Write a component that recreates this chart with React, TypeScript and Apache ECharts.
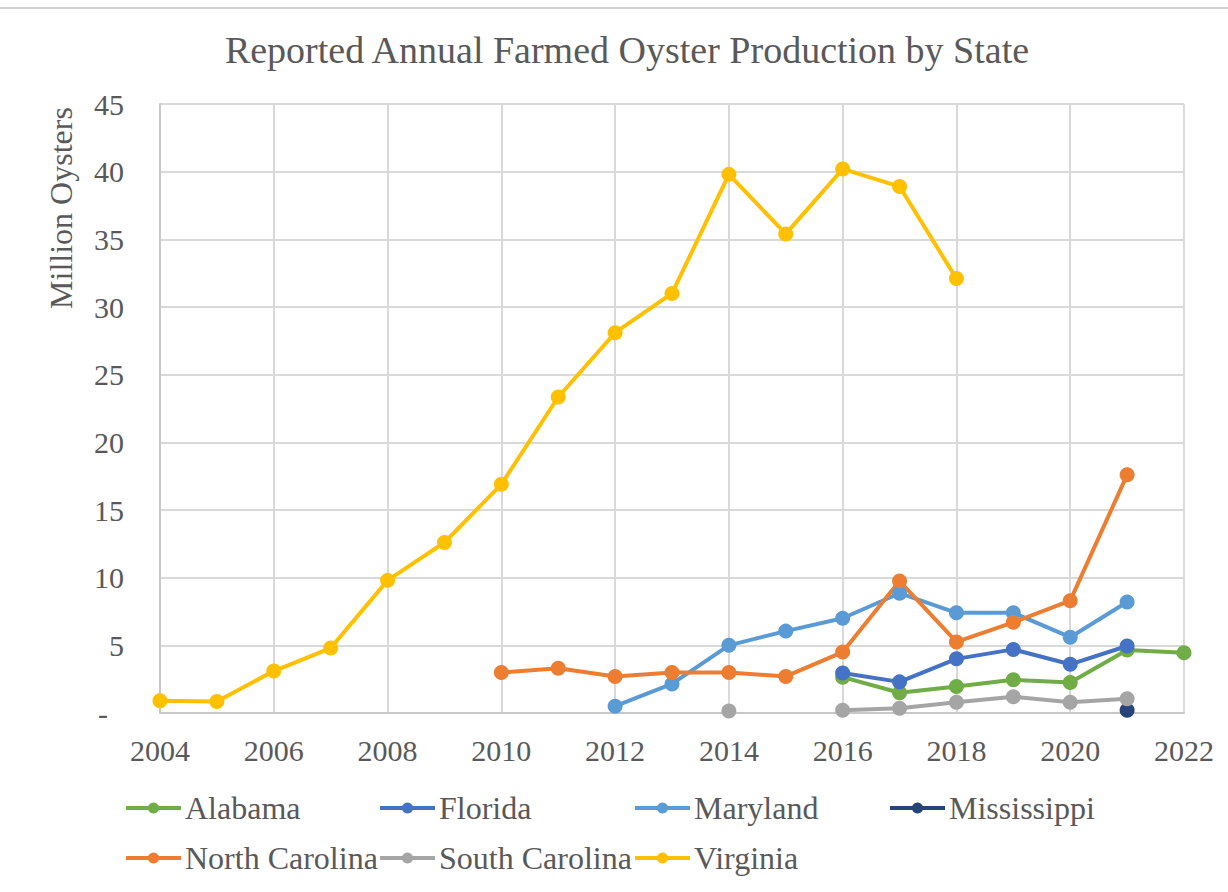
import React, { useEffect, useRef } from "react";
import * as echarts from "echarts";

const years = [2004, 2005, 2006, 2007, 2008, 2009, 2010, 2011, 2012, 2013, 2014, 2015, 2016, 2017, 2018, 2019, 2020, 2021, 2022];
const alabama = [null, null, null, null, null, null, null, null, null, null, null, null, 2.65, 1.5, 1.95, 2.45, 2.25, 4.65, 4.45];
const florida = [null, null, null, null, null, null, null, null, null, null, null, null, 2.95, 2.3, 4.0, 4.7, 3.6, 4.95, null];
const maryland = [null, null, null, null, null, null, null, null, 0.5, 2.15, 5.0, 6.05, 7.0, 8.85, 7.4, 7.4, 5.6, 8.2, null];
const mississippi = [null, null, null, null, null, null, null, null, null, null, null, null, null, null, null, null, null, 0.2, null];
const northCarolina = [null, null, null, null, null, null, 3.0, 3.3, 2.7, 3.0, 3.0, 2.7, 4.5, 9.75, 5.25, 6.7, 8.3, 17.6, null];
const southCarolina = [null, null, null, null, null, null, null, null, null, null, 0.15, null, 0.2, 0.35, 0.8, 1.2, 0.8, 1.05, null];
const virginia = [0.9, 0.85, 3.1, 4.8, 9.8, 12.6, 16.9, 23.35, 28.1, 31.0, 39.8, 35.4, 40.2, 38.9, 32.1, null, null, null, null];

const seriesDefs = [
  { name: "Alabama", values: alabama, color: "#70AD47" },
  { name: "Florida", values: florida, color: "#4472C4" },
  { name: "Maryland", values: maryland, color: "#5B9BD5" },
  { name: "Mississippi", values: mississippi, color: "#264478" },
  { name: "North Carolina", values: northCarolina, color: "#ED7D31" },
  { name: "South Carolina", values: southCarolina, color: "#A5A5A5" },
  { name: "Virginia", values: virginia, color: "#FFC000" },
];

const FONT = "'Liberation Serif', 'Times New Roman', serif";
const TEXT = "#595959";

export default function App() {
  const ref = useRef<HTMLDivElement>(null);
  useEffect(() => {
    document.body.style.margin = "0";
    const chart = echarts.init(ref.current!, null, { renderer: "svg" });
    const legendPos = [
      [124, 792], [378, 792], [633, 792], [888, 792],
      [124, 842], [378, 842], [633, 842],
    ];
    chart.setOption({
      animation: false,
      backgroundColor: "#ffffff",
      textStyle: { fontFamily: FONT },
      grid: { left: 160, right: 44, top: 104, bottom: 179, containLabel: false },
      legend: seriesDefs.map((s, i) => ({
        data: [s.name],
        left: legendPos[i][0],
        top: legendPos[i][1],
        padding: 0,
        itemWidth: 55,
        itemHeight: 14,
        itemGap: 0,
        lineStyle: { width: 4 },
        textStyle: { fontFamily: FONT, fontSize: 32, color: TEXT, padding: [0, 0, 0, -1] },
      })),
      xAxis: {
        type: "value",
        min: 2004,
        max: 2022,
        interval: 2,
        axisLine: { show: true, lineStyle: { color: "#c8c8c8", width: 2 } },
        axisTick: { show: false },
        splitLine: { show: true, lineStyle: { color: "#d9d9d9", width: 2 } },
        axisLabel: {
          formatter: (v: number) => String(v),
          fontFamily: FONT,
          fontSize: 30,
          color: TEXT,
          margin: 22,
        },
      },
      yAxis: {
        type: "value",
        min: 0,
        max: 45,
        interval: 5,
        axisLine: { show: true, lineStyle: { color: "#c8c8c8", width: 2 } },
        axisTick: { show: false },
        splitLine: { show: true, lineStyle: { color: "#d9d9d9", width: 2 } },
        axisLabel: {
          formatter: (v: number) => (v === 0 ? "{d|-}" : String(v)),
          fontFamily: FONT,
          fontSize: 30,
          color: TEXT,
          margin: 36,
          rich: {
            d: { fontFamily: FONT, fontSize: 30, color: TEXT, padding: [0, 16, 0, 0] },
          },
        },
      },
      graphic: [
        { type: "rect", shape: { x: 0, y: 7, width: 1228, height: 2 }, style: { fill: "#d0d0d0" } },
        {
          type: "text",
          x: 627,
          y: 50,
          style: {
            text: "Reported Annual Farmed Oyster Production by State",
            font: `38px ${FONT}`,
            fill: TEXT,
            textAlign: "center",
            textVerticalAlign: "middle",
          },
        },
        {
          type: "text",
          x: 61,
          y: 208,
          rotation: Math.PI / 2,
          style: {
            text: "Million Oysters",
            font: `32px ${FONT}`,
            fill: TEXT,
            textAlign: "center",
            textVerticalAlign: "middle",
          },
        },
      ],
      series: seriesDefs.map((s) => ({
        name: s.name,
        type: "line",
        data: years.map((y, i) => [y, s.values[i]]),
        connectNulls: false,
        symbol: "circle",
        symbolSize: 15,
        showSymbol: true,
        lineStyle: { color: s.color, width: 4 },
        itemStyle: { color: s.color },
        emphasis: { disabled: true },
      })),
    });
    return () => chart.dispose();
  }, []);
  return <div ref={ref} style={{ width: 1228, height: 892 }} />;
}
